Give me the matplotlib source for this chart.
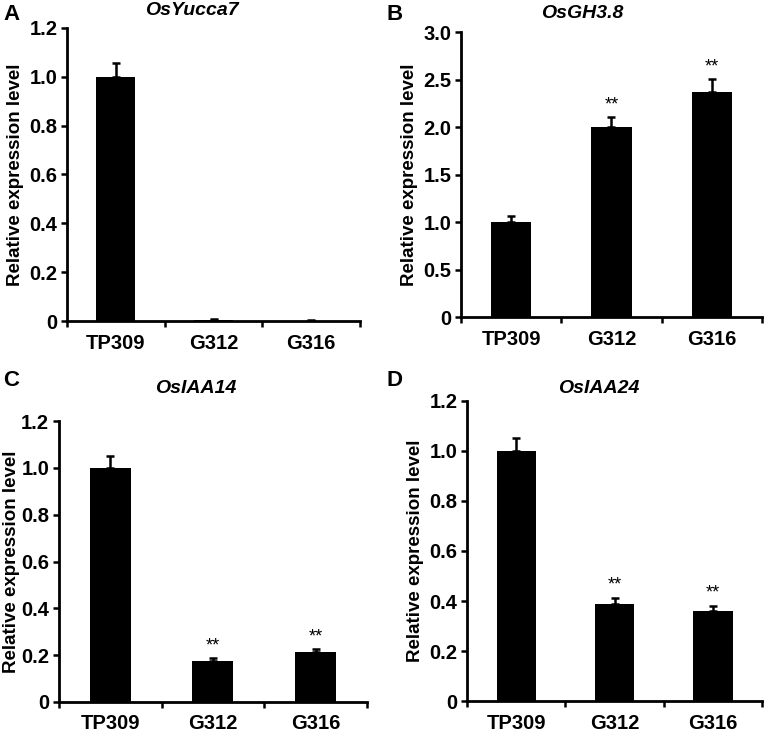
import matplotlib
matplotlib.use('Agg')
import matplotlib.pyplot as plt
import numpy as np

plt.rcParams['font.family'] = ['Liberation Sans', 'DejaVu Sans']
plt.rcParams['font.weight'] = 'bold'

LINES = ['TP309', 'G312', 'G316']

# relative expression (mean, upper error) per gene
YUCCA7 = [1.0, 0.006, 0.002]
YUCCA7_ERR = [0.055, 0.002, 0.001]
GH38 = [1.0, 2.0, 2.37]
GH38_ERR = [0.06, 0.11, 0.135]
IAA14 = [1.0, 0.175, 0.213]
IAA14_ERR = [0.052, 0.013, 0.015]
IAA24 = [1.0, 0.388, 0.362]
IAA24_ERR = [0.052, 0.026, 0.02]

SIG_GH38 = ['', '**', '**']
SIG_IAA14 = ['', '**', '**']
SIG_IAA24 = ['', '**', '**']
SIG_NONE = ['', '', '']

panels = [
    # letter, title, vals, errs, stars, ylim, yticks, axes rect,
    # letter pos, title pos (figure coords), ylabel pad
    ('A', 'OsYucca7', YUCCA7, YUCCA7_ERR, SIG_NONE, 1.2,
     [0, 0.2, 0.4, 0.6, 0.8, 1.0, 1.2],
     [0.0865, 0.562, 0.378, 0.400], (0.004, 0.994), (0.248, 0.979), 4),
    ('B', 'OsGH3.8', GH38, GH38_ERR, SIG_GH38, 3.0,
     [0, 0.5, 1.0, 1.5, 2.0, 2.5, 3.0],
     [0.595, 0.5675, 0.388, 0.3885], (0.499, 0.994), (0.751, 0.975), 4),
    ('C', 'OsIAA14', IAA14, IAA14_ERR, SIG_IAA14, 1.2,
     [0, 0.2, 0.4, 0.6, 0.8, 1.0, 1.2],
     [0.076, 0.0423, 0.3975, 0.3833], (0.004, 0.495), (0.253, 0.4638), 1),
    ('D', 'OsIAA24', IAA24, IAA24_ERR, SIG_IAA24, 1.2,
     [0, 0.2, 0.4, 0.6, 0.8, 1.0, 1.2],
     [0.6026, 0.0436, 0.381, 0.4094], (0.499, 0.495), (0.772, 0.4638), 4),
]


def ticklab(v):
    return '0' if v == 0 else f'{v:.1f}'


fig = plt.figure(figsize=(7.75, 7.33), dpi=100)
for letter, title, vals, errs, stars, ymax, yticks, rect, lpos, tpos, lp in panels:
    ax = fig.add_axes(rect)
    x = np.arange(len(LINES))
    ax.bar(x, vals, width=0.4, color='black', zorder=2)
    ax.errorbar(x, vals, yerr=[np.zeros(len(vals)), errs], fmt='none',
                ecolor='black', elinewidth=1.8, capsize=3, capthick=1.8,
                zorder=1)
    for xi, v, e, s in zip(x, vals, errs, stars):
        if s:
            ax.text(xi, v + e + ymax * 0.012, s, ha='center', va='bottom',
                    fontsize=13, fontweight='normal')
    ax.set_xlim(-0.5, 2.5)
    ax.set_ylim(0, ymax)
    ax.set_yticks(yticks)
    ax.set_yticklabels([ticklab(v) for v in yticks], fontsize=14.5,
                       fontweight='bold')
    ax.set_xticks(x)
    ax.set_xticklabels(LINES, fontsize=14.5, fontweight='bold')
    ax.tick_params(axis='x', length=0, pad=9)
    ax.set_xticks([-0.5, 0.5, 1.5, 2.5], minor=True)
    ax.tick_params(axis='x', which='minor', length=4, width=1.8,
                   direction='out')
    ax.tick_params(axis='y', length=4, width=1.8, pad=3)
    for sp in ['top', 'right']:
        ax.spines[sp].set_visible(False)
    for sp in ['left', 'bottom']:
        ax.spines[sp].set_linewidth(2)
    ax.set_ylabel('Relative expression level', fontsize=13.5,
                  fontweight='bold', labelpad=lp)
    fig.text(tpos[0], tpos[1], title, fontsize=14, fontweight='bold',
             style='italic', ha='center', va='baseline')
    fig.text(lpos[0], lpos[1], letter, fontsize=16, fontweight='bold',
             ha='left', va='top')

fig.savefig('out.png', dpi=100)
